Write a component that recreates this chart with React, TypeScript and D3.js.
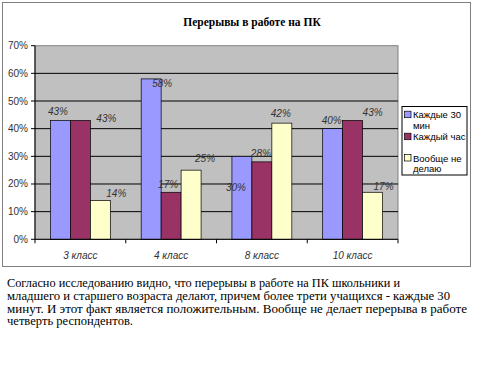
import React from "react";
import * as d3 from "d3";

const categories = ["3 класс", "4 класс", "8 класс", "10 класс"];
const seriesNames = ["Каждые 30 мин", "Каждый час", "Вообще не делаю"];
const every30 = [43, 58, 30, 40];
const everyHour = [43, 17, 28, 43];
const never = [14, 25, 42, 17];
const yTicks = [0, 10, 20, 30, 40, 50, 60, 70];
const paragraph = [
  "Согласно исследованию видно, что перерывы в работе на ПК школьники и",
  "младшего и старшего возраста делают, причем более трети учащихся - каждые 30",
  "минут. И этот факт является положительным. Вообще не делает перерыва в работе",
  "четверть респондентов.",
];

// layout-only constants
const colors = ["#9999ff", "#993366", "#ffffcc"];
const labelOffsets: [number, number][][] = [
  [[-2.5, -9], [11, 4.5], [-6, 31], [-1, -8]],
  [[26, -2], [-3, -8], [-1, -8.5], [20, -8]],
  [[16, -7], [14, -12], [-1, -10], [11, -6]],
];
const legendLines = [["Каждые 30", "мин"], ["Каждый час"], ["Вообще не", "делаю"]];
const paraWidths = [393, 443, 460, 126];
const serif = "'Liberation Serif', 'Times New Roman', 'DejaVu Serif', serif";
const sans = "Arial, 'Liberation Sans', sans-serif";

export default function App() {
  const W = 480, H = 378;
  const left = 35, right = 398, top = 45.7, bottom = 239.3;
  const x0 = d3.scaleBand().domain(categories).range([left, right]).paddingInner(0.34).paddingOuter(0.17);
  const x1 = d3.scaleBand().domain(seriesNames).range([0, x0.bandwidth()]);
  const y = d3.scaleLinear().domain([0, 70]).range([bottom, top]);
  const data = [every30, everyHour, never];
  const step = (right - left) / categories.length;
  const boundaries = d3.range(categories.length + 1).map((i) => left + i * step);

  return (
    <svg width={W} height={H} style={{ position: "absolute", left: 0, top: 0, background: "#fff" }}>
      <rect x={2.5} y={2.5} width={468} height={264} fill="#fff" stroke="#808080" strokeWidth={1} />
      <text x={252} y={26} textAnchor="middle" style={{ fontFamily: serif, fontWeight: "bold", fontSize: 11.5 }} fill="#000">
        Перерывы в работе на ПК
      </text>
      <rect x={left} y={top} width={right - left} height={bottom - top} fill="#c0c0c0" stroke="#808080" strokeWidth={1} />
      {yTicks.filter((t) => t > 0 && t < 70).map((t) => (
        <line key={t} x1={left} x2={right} y1={y(t)} y2={y(t)} stroke="#000" strokeWidth={1} />
      ))}
      {yTicks.map((t) => (
        <g key={"yt" + t}>
          <line x1={left - 4} x2={left} y1={y(t)} y2={y(t)} stroke="#000" />
          <text x={28} y={y(t) + 3.5} textAnchor="end" style={{ fontFamily: sans, fontSize: 10 }} fill="#333">
            {t}%
          </text>
        </g>
      ))}
      <line x1={left} x2={left} y1={top} y2={bottom} stroke="#000" />
      {data.map((vals, si) =>
        vals.map((v, ci) => {
          const bx = (x0(categories[ci]) as number) + (x1(seriesNames[si]) as number);
          return (
            <rect key={`b${si}-${ci}`} x={bx} y={y(v)} width={x1.bandwidth()} height={bottom - y(v)} fill={colors[si]} stroke="#000" strokeWidth={0.7} />
          );
        })
      )}
      <line x1={left} x2={right} y1={bottom} y2={bottom} stroke="#000" />
      {boundaries.map((b, i) => (
        <line key={"xt" + i} x1={b} x2={b} y1={bottom} y2={bottom + 4} stroke="#000" />
      ))}
      {data.map((vals, si) =>
        vals.map((v, ci) => {
          const bx = (x0(categories[ci]) as number) + (x1(seriesNames[si]) as number) + x1.bandwidth() / 2;
          const [dx, dy] = labelOffsets[si][ci];
          return (
            <text key={`l${si}-${ci}`} x={bx + dx} y={y(v) + dy + 3.5} textAnchor="middle" style={{ fontFamily: sans, fontStyle: "italic", fontSize: 10 }} fill="#333">
              {v}%
            </text>
          );
        })
      )}
      {categories.map((c) => (
        <text key={c} x={(x0(c) as number) + x0.bandwidth() / 2} y={258.5} textAnchor="middle" style={{ fontFamily: sans, fontStyle: "italic", fontSize: 10 }} fill="#333">
          {c}
        </text>
      ))}
      <rect x={402} y={106.5} width={65} height={68.5} fill="#fff" stroke="#000" strokeWidth={1} />
      {legendLines.map((lines, i) => {
        const ys = [114.7, 136.7, 158][i];
        return (
          <g key={"lg" + i}>
            <rect x={404.5} y={ys - 3.5} width={6.5} height={6.5} fill={colors[i]} stroke="#000" strokeWidth={0.7} />
            {lines.map((ln, j) => (
              <text key={j} x={413} y={ys + 3.5 + j * 10.5} style={{ fontFamily: sans, fontSize: 9.5 }} fill="#000">
                {ln}
              </text>
            ))}
          </g>
        );
      })}
      {paragraph.map((ln, i) => (
        <text key={"p" + i} x={7} y={[287, 300, 312.5, 325][i]} style={{ fontFamily: serif, fontSize: 12.5 }} fill="#000" textLength={paraWidths[i]} lengthAdjust="spacingAndGlyphs">
          {ln}
        </text>
      ))}
    </svg>
  );
}
